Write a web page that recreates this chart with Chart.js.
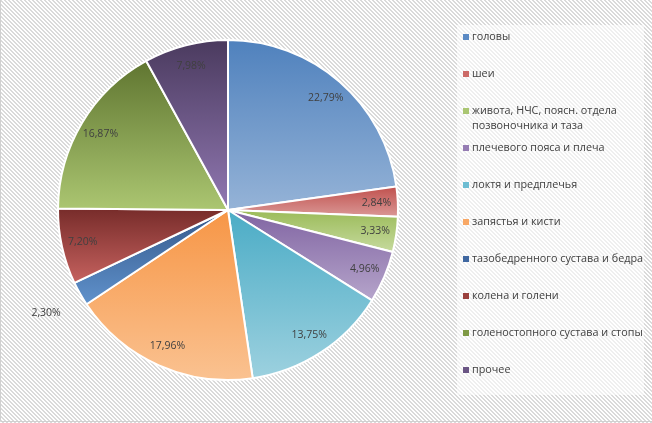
<!DOCTYPE html>
<html>
<head>
<meta charset="utf-8">
<script src="https://cdn.jsdelivr.net/npm/chart.js@4"></script>
<style>
  html, body { margin: 0; padding: 0; background: #fff; }
  canvas { display: block; }
</style>
</head>
<body>
<canvas id="chart" width="652" height="423"></canvas>
<script>
// data
const categories = [
  'головы',
  'шеи',
  ['живота, НЧС, поясн. отдела', 'позвоночника и таза'],
  'плечевого пояса и плеча',
  'локтя и предплечья',
  'запястья и кисти',
  'тазобедренного сустава и бедра',
  'колена и голени',
  'голеностопного сустава и стопы',
  'прочее'
];
const shares = [22.79, 2.84, 3.33, 4.96, 13.75, 17.96, 2.30, 7.20, 16.87, 7.98];

// slice colours, top of slice -> bottom of slice
const darkColors  = ['#4f81bd', '#c0504d', '#9bbb59', '#8064a2', '#4bacc6', '#f79646', '#34588a', '#772c2a', '#5f7530', '#4a3a5e'];
const lightColors = ['#95b3d7', '#da9896', '#c6da9e', '#b6a5cb', '#9dd1df', '#fac291', '#6092cc', '#c6625f', '#abc671', '#9178b2'];
const legendColors = ['#5b8ac4', '#cc6b68', '#aac672', '#957cb3', '#6dbdd2', '#f8a866', '#3f67a0', '#9a403d', '#7f9a45', '#6a5584'];

// striped background tiles
function stripes(color) {
  const tile = document.createElement('canvas');
  tile.width = 4;
  tile.height = 4;
  const t = tile.getContext('2d');
  t.fillStyle = '#ffffff';
  t.fillRect(0, 0, 4, 4);
  t.fillStyle = color;
  for (let y = 0; y < 4; y++) {
    for (let x = 0; x < 4; x++) {
      const k = ((x - y) % 4 + 4) % 4;
      if (k < 2) t.fillRect(x, y, 1, 1);
    }
  }
  return tile;
}
const outerTile = stripes('#dadada');
const legendTile = stripes('#efefef');

// vertical gradient over the bounding box of each slice
function sliceGradient(context) {
  const chart = context.chart;
  const i = context.dataIndex;
  const area = chart.chartArea;
  if (!area) return darkColors[i];
  const cx = (area.left + area.right) / 2;
  const cy = (area.top + area.bottom) / 2;
  const r = Math.min(area.width, area.height) / 2;
  const total = shares.reduce((a, b) => a + b, 0);
  let before = 0;
  for (let k = 0; k < i; k++) before += shares[k];
  const a0 = -Math.PI / 2 + 2 * Math.PI * before / total;
  const a1 = a0 + 2 * Math.PI * shares[i] / total;
  const ys = [cy, cy + r * Math.sin(a0), cy + r * Math.sin(a1)];
  const inRange = a => {
    for (let t = a; t < a1 + 2 * Math.PI; t += 2 * Math.PI) {
      if (t >= a0 && t <= a1) return true;
    }
    return false;
  };
  if (inRange(-Math.PI / 2)) ys.push(cy - r);
  if (inRange(Math.PI / 2)) ys.push(cy + r);
  const y0 = Math.min(...ys);
  const y1 = Math.max(...ys);
  const g = chart.ctx.createLinearGradient(0, y0, 0, y1 + 0.01);
  g.addColorStop(0, darkColors[i]);
  g.addColorStop(1, lightColors[i]);
  return g;
}

// background, legend frame
const backgroundPlugin = {
  id: 'excelBackground',
  beforeDraw(chart) {
    const {ctx, width, height} = chart;
    ctx.save();
    ctx.fillStyle = ctx.createPattern(outerTile, 'repeat');
    ctx.fillRect(0, 0, width, height);
    ctx.fillStyle = ctx.createPattern(legendTile, 'repeat');
    ctx.fillRect(457, 25, 187, 370);
    ctx.strokeStyle = '#d0d0d0';
    ctx.lineWidth = 1;
    ctx.beginPath();
    ctx.moveTo(0.5, 0);
    ctx.lineTo(0.5, height - 1.5);
    ctx.lineTo(width, height - 1.5);
    ctx.stroke();
    ctx.restore();
  }
};

// percentage labels on the slices
const labelPlugin = {
  id: 'sliceLabels',
  afterDatasetsDraw(chart) {
    const {ctx} = chart;
    const meta = chart.getDatasetMeta(0);
    ctx.save();
    ctx.font = '10.5px "Open Sans"';
    ctx.fillStyle = '#404040';
    ctx.textAlign = 'center';
    ctx.textBaseline = 'middle';
    meta.data.forEach((arc, i) => {
      const {x, y, startAngle, endAngle, outerRadius} = arc.getProps(['x', 'y', 'startAngle', 'endAngle', 'outerRadius'], true);
      const mid = (startAngle + endAngle) / 2;
      const rr = shares[i] < 2.5 ? outerRadius * 1.23 : outerRadius * 0.875;
      const text = shares[i].toFixed(2).replace('.', ',') + '%';
      ctx.fillText(text, x + rr * Math.cos(mid), y + rr * Math.sin(mid));
    });
    ctx.restore();
  }
};

// legend to the right
const legendPlugin = {
  id: 'sideLegend',
  afterDraw(chart) {
    const {ctx} = chart;
    ctx.save();
    ctx.font = '10.8px "Open Sans"';
    ctx.textAlign = 'left';
    ctx.textBaseline = 'middle';
    chart.data.labels.forEach((label, i) => {
      const y = 37 + i * 37;
      ctx.fillStyle = legendColors[i];
      ctx.fillRect(463, y - 3, 6, 6);
      ctx.fillStyle = '#404040';
      const lines = Array.isArray(label) ? label : [label];
      lines.forEach((line, j) => ctx.fillText(line, 472, y + j * 15));
    });
    ctx.restore();
  }
};

// chart
const chart = new Chart(document.getElementById('chart'), {
  type: 'pie',
  data: {
    labels: categories,
    datasets: [{
      data: shares,
      backgroundColor: sliceGradient,
      borderColor: '#ffffff',
      borderWidth: 2
    }]
  },
  options: {
    responsive: false,
    animation: false,
    layout: {padding: {left: 57, right: 253, top: 39, bottom: 42}},
    plugins: {
      legend: {display: false},
      tooltip: {enabled: true}
    }
  },
  plugins: [backgroundPlugin, labelPlugin, legendPlugin]
});
</script>
</body>
</html>
